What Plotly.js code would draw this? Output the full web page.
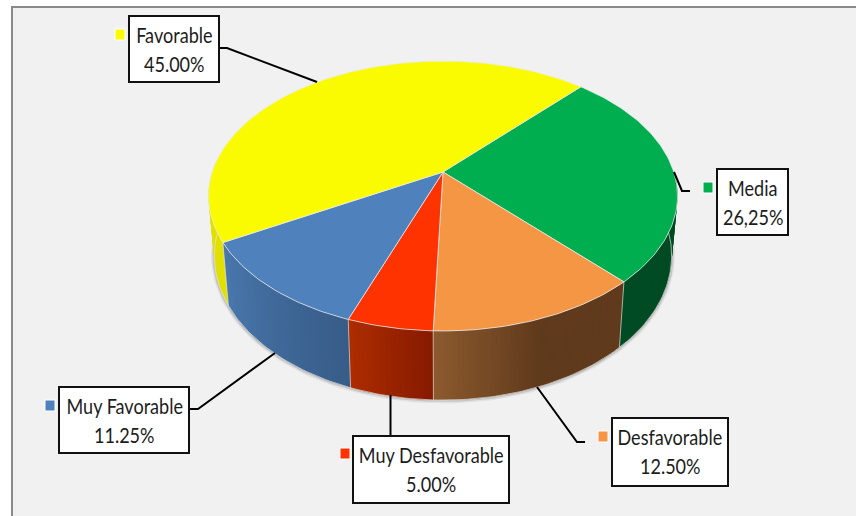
<!DOCTYPE html>
<html>
<head>
<meta charset="utf-8">
<script src="https://cdn.plot.ly/plotly-3.0.1.min.js"></script>
<style>html,body{margin:0;padding:0;background:#fff}#chart{width:856px;height:516px}</style>
</head>
<body>
<div id="chart"></div>
<script>
// Slice data, clockwise from the Favorable / Media boundary
const categories = ['Media', 'Desfavorable', 'Muy Desfavorable', 'Muy Favorable', 'Favorable'];
const shares = [26.25, 12.5, 5, 11.25, 45];
const valueLabels = ['26,25%', '12.50%', '5.00%', '11.25%', '45.00%'];

// Surface colours and wall shading for each slice
const topColors = ['#00AE50', '#F59645', '#FF3300', '#4F81BD', '#FBFB00'];
const wallStart = ['#004B23', '#603A1C', '#861A00', '#375C88', '#E2E000'];
const wallEnd = ['#004B23', '#8C5A2E', '#AE2C00', '#4A78AD', '#E2E000'];
const wallHold = [0, 0.5, 0, 0, 0];

// Drawn label boxes, keys and leaders, in pixels
const boxes = [[717, 169, 788, 235], [612, 418, 728, 486], [353, 436, 509, 503], [59, 387, 189, 453], [129, 16, 219, 82]];
const keys = [[703, 182], [598, 431], [340, 448], [45, 400], [115, 29]];
const leaders = [
  [[674, 172], [682, 191], [690, 191]],
  [[537, 387], [577, 442], [585, 442]],
  [[390.5, 395], [390.5, 436]],
  [[275, 353], [198, 409], [189, 409]],
  [[317, 82], [227, 48], [219, 48]]
];

// Perspective projection of the disc
const startAngle = 42.5, apexX = 443, apexY = 172;
const scaleX = 230.8, scaleY = 130.7, tilt = 0.1778;
const lowerX = 0.975, lowerY = 1.07, lowerOffset = 230;

function rimTop(a) {
  const r = a * Math.PI / 180, u = Math.sin(r), v = -Math.cos(r), d = 1 - tilt * v;
  return [apexX + scaleX * u / d, apexY + scaleY * v / d];
}
function rimLow(a) {
  const p = rimTop(a);
  return [apexX + lowerX * (p[0] - apexX), lowerOffset + lowerY * (p[1] - apexY)];
}
function arc(fn, a0, a1) {
  const n = Math.max(2, Math.ceil(Math.abs(a1 - a0))), out = [];
  for (let i = 0; i <= n; i++) out.push(fn(a0 + (a1 - a0) * i / n));
  return out;
}
function hexMix(c0, c1, t) {
  const ch = (c, i) => parseInt(c.substr(1 + 2 * i, 2), 16);
  return 'rgb(' + [0, 1, 2].map(i => Math.round(ch(c0, i) + (ch(c1, i) - ch(c0, i)) * t)).join(',') + ')';
}
function poly(pts, fill, line, width) {
  return {
    type: 'scatter', mode: 'lines', hoverinfo: 'skip', showlegend: false,
    x: pts.map(p => p[0]), y: pts.map(p => p[1]),
    fill: 'toself', fillcolor: fill, line: { color: line, width: width }
  };
}
function stroke(pts, color, width) {
  return {
    type: 'scatter', mode: 'lines', hoverinfo: 'skip', showlegend: false,
    x: pts.map(p => p[0]), y: pts.map(p => p[1]),
    line: { color: color, width: width }
  };
}

// Cumulative slice boundaries in degrees
const edges = [startAngle];
shares.forEach(s => edges.push(edges[edges.length - 1] + s * 3.6));

const traces = [];
const wallFrom = 90, wallTo = 275;

// Soft shadow under the lower rim
const lowRim = arc(rimLow, wallFrom, wallTo);
traces.push(stroke(lowRim, 'rgba(0,0,0,0.06)', 7));
traces.push(stroke(lowRim, 'rgba(0,0,0,0.12)', 4));

// Side walls: overlapping one-degree bands, painted in sweep order
shares.forEach((s, i) => {
  const a0 = Math.max(edges[i], wallFrom), a1 = Math.min(edges[i + 1], wallTo);
  if (a1 <= a0) return;
  const bands = Math.ceil(a1 - a0);
  for (let b = 0; b < bands; b++) {
    const p0 = a0 + (a1 - a0) * b / bands;
    const p1 = Math.min(a0 + (a1 - a0) * (b + 1) / bands + 1, wallTo);
    const t = Math.max(0, ((b + 0.5) / bands - wallHold[i]) / (1 - wallHold[i]));
    traces.push(poly(arc(rimTop, p0, p1).concat(arc(rimLow, p1, p0)), hexMix(wallStart[i], wallEnd[i], t), 'rgba(0,0,0,0)', 0));
  }
});

// Seams between neighbouring walls and the lit lower edge
edges.slice(1, 5).forEach(a => {
  if (a > wallFrom && a < wallTo) traces.push(stroke([rimTop(a), rimLow(a)], 'rgba(235,235,235,0.65)', 1));
});
traces.push(stroke(lowRim, 'rgba(225,225,225,0.7)', 1));

// Top surface wedges
shares.forEach((s, i) => {
  const pts = [[apexX, apexY]].concat(arc(rimTop, edges[i], edges[i + 1]));
  pts.push([apexX, apexY]);
  traces.push(poly(pts, topColors[i], 'rgba(235,235,235,0.75)', 1));
});

// Leader lines
leaders.forEach(l => traces.push(stroke(l, '#000', 2)));

// Frame, boxes and colour keys
const shapes = [{
  type: 'rect', xref: 'x', yref: 'y', x0: 12, y0: 7, x1: 880, y1: 540,
  fillcolor: '#F1F1F1', line: { color: '#8A8A8A', width: 2 }, layer: 'below'
}];
boxes.forEach(b => shapes.push({
  type: 'rect', xref: 'x', yref: 'y', x0: b[0], y0: b[1], x1: b[2], y1: b[3],
  fillcolor: '#fff', line: { color: '#111', width: 2 }
}));
keys.forEach((k, i) => shapes.push({
  type: 'rect', xref: 'x', yref: 'y', x0: k[0], y0: k[1], x1: k[0] + 10, y1: k[1] + 11,
  fillcolor: topColors[i], line: { color: '#fff', width: 1 }
}));

// Category and value text inside each box
const textFont = { family: 'Lato, sans-serif', size: 21, color: '#1C1C1C' };
const annotations = [];
boxes.forEach((b, i) => {
  const cx = (b[0] + b[2]) / 2;
  annotations.push({ x: cx, y: b[1] + 18, xref: 'x', yref: 'y', text: categories[i], showarrow: false, font: textFont });
  annotations.push({ x: cx, y: b[1] + 47, xref: 'x', yref: 'y', text: valueLabels[i], showarrow: false, font: textFont });
});

Plotly.newPlot('chart', traces, {
  width: 856, height: 516,
  margin: { l: 0, r: 0, t: 0, b: 0 },
  paper_bgcolor: '#fff', plot_bgcolor: '#fff',
  showlegend: false,
  xaxis: { range: [0, 856], visible: false, fixedrange: true },
  yaxis: { range: [516, 0], visible: false, fixedrange: true },
  shapes: shapes, annotations: annotations
}, { displayModeBar: false, staticPlot: true }).then(() => {
  // Condense the label text horizontally to sit inside the boxes
  document.querySelectorAll('#chart .annotation-text').forEach(t => {
    t.setAttribute('textLength', (t.getComputedTextLength() * 0.86).toFixed(1));
    t.setAttribute('lengthAdjust', 'spacingAndGlyphs');
  });
});
</script>
</body>
</html>
